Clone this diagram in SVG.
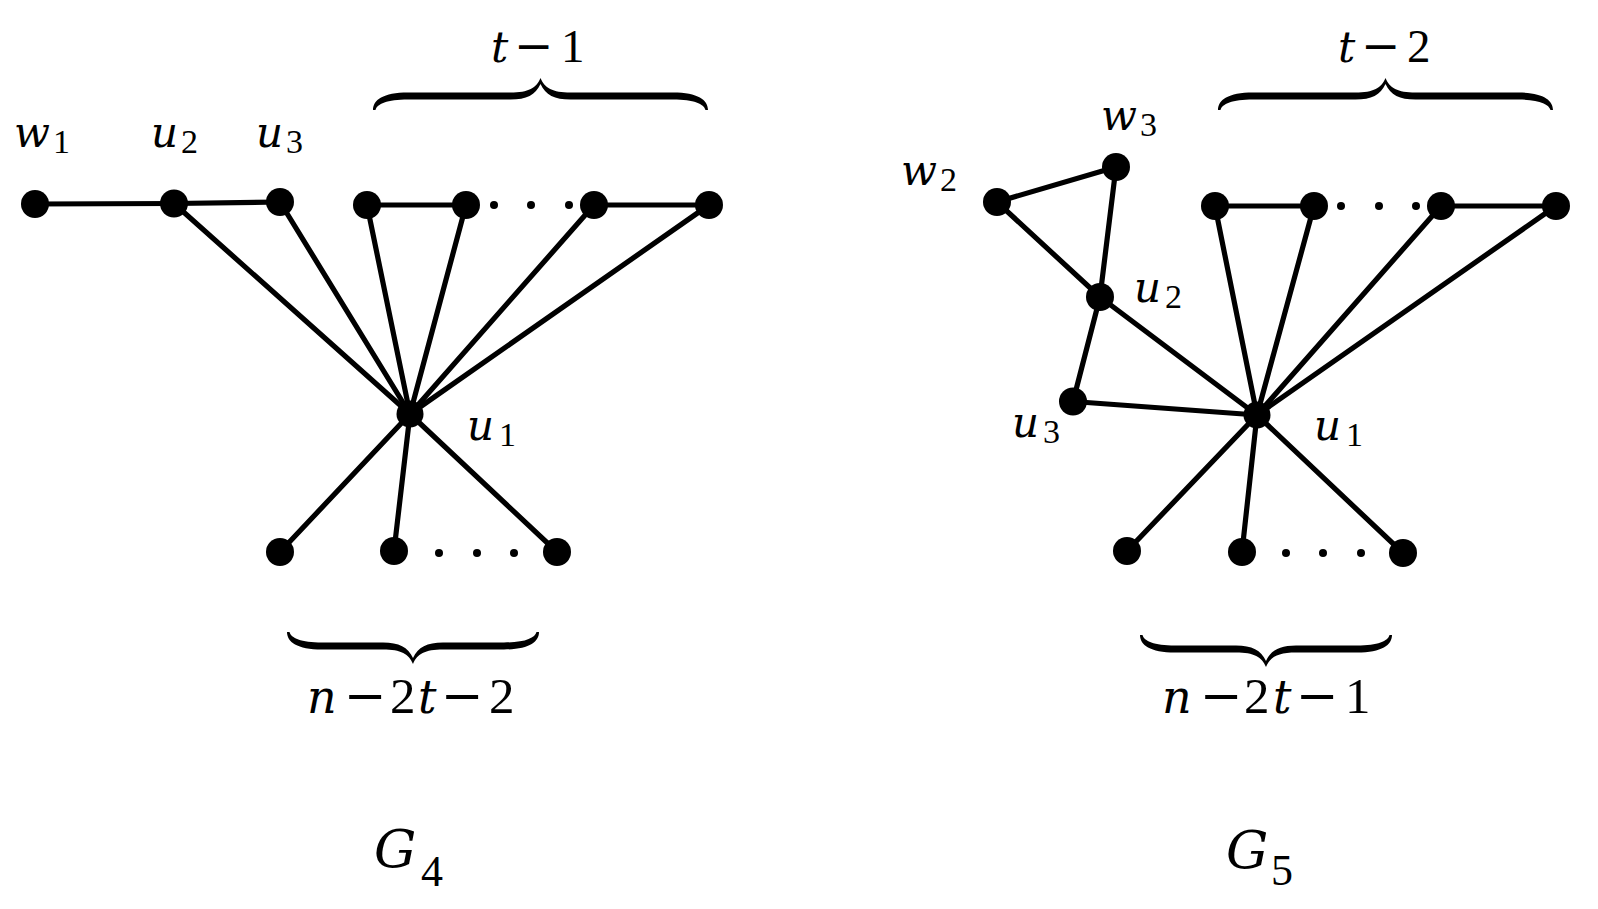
<svg xmlns="http://www.w3.org/2000/svg" xmlns:xlink="http://www.w3.org/1999/xlink" width="1598" height="909" viewBox="0 0 1598 909">
<defs>
<path id="brace335" d="M0,0 C0,-10 10,-17.5 35,-17.5 L137.5,-17.5 C155.5,-17.5 163.5,-22 167.5,-32 C171.5,-22 179.5,-17.5 197.5,-17.5 L300,-17.5 C325,-17.5 335,-10 335,0 L332.5,0 C331,-6 321,-10.5 300,-10.5 L197.5,-10.5 C181.5,-10.5 172.5,-15 167.5,-26 C162.5,-15 153.5,-10.5 137.5,-10.5 L35,-10.5 C14,-10.5 4,-6 2.5,0 Z"/>
<path id="brace252" d="M0,0 C0,-10 10,-17.5 35,-17.5 L96,-17.5 C114,-17.5 122,-22 126,-32 C130,-22 138,-17.5 156,-17.5 L217,-17.5 C242,-17.5 252,-10 252,0 L249.5,0 C248,-6 238,-10.5 217,-10.5 L156,-10.5 C140,-10.5 131,-15 126,-26 C121,-15 112,-10.5 96,-10.5 L35,-10.5 C14,-10.5 4,-6 2.5,0 Z"/>
</defs>
<rect x="0" y="0" width="1598" height="909" fill="#fff"/>

<g id="connectors" stroke="#000" stroke-width="5.2" stroke-linecap="round" fill="none">
  <line x1="35" y1="204" x2="174" y2="203.5"/>
  <line x1="174" y1="203.5" x2="280" y2="202"/>
  <line x1="367" y1="205" x2="466" y2="205"/>
  <line x1="594" y1="205" x2="709" y2="205"/>
  <line x1="410" y1="414" x2="174" y2="203.5"/>
  <line x1="410" y1="414" x2="280" y2="202"/>
  <line x1="410" y1="414" x2="367" y2="205"/>
  <line x1="410" y1="414" x2="466" y2="205"/>
  <line x1="410" y1="414" x2="594" y2="205"/>
  <line x1="410" y1="414" x2="709" y2="205"/>
  <line x1="410" y1="414" x2="280" y2="552"/>
  <line x1="410" y1="414" x2="394" y2="551"/>
  <line x1="410" y1="414" x2="557" y2="552"/>
  <line x1="997" y1="202" x2="1116" y2="167"/>
  <line x1="1116" y1="167" x2="1100" y2="297"/>
  <line x1="997" y1="202" x2="1100" y2="297"/>
  <line x1="1100" y1="297" x2="1073" y2="401.5"/>
  <line x1="1100" y1="297" x2="1257" y2="415"/>
  <line x1="1073" y1="401.5" x2="1257" y2="415"/>
  <line x1="1215" y1="206" x2="1314" y2="206"/>
  <line x1="1441" y1="206" x2="1556" y2="206"/>
  <line x1="1257" y1="415" x2="1215" y2="206"/>
  <line x1="1257" y1="415" x2="1314" y2="206"/>
  <line x1="1257" y1="415" x2="1441" y2="206"/>
  <line x1="1257" y1="415" x2="1556" y2="206"/>
  <line x1="1257" y1="415" x2="1127" y2="551"/>
  <line x1="1257" y1="415" x2="1242" y2="552"/>
  <line x1="1257" y1="415" x2="1403" y2="553"/>
</g>

<g id="G4" fill="#000">
  <g id="g4-w1"><circle cx="35" cy="204" r="14"/><text font-family="Liberation Serif, serif" font-size="34"><tspan font-family="DejaVu Serif, serif" font-style="italic" font-size="42" x="14" y="147">w</tspan><tspan x="53" y="153">1</tspan></text></g>
  <g id="g4-u2"><circle cx="174" cy="203.5" r="14"/><text font-family="Liberation Serif, serif" font-size="34"><tspan font-family="DejaVu Serif, serif" font-style="italic" font-size="42" x="151" y="147">u</tspan><tspan x="181" y="153">2</tspan></text></g>
  <g id="g4-u3"><circle cx="280" cy="202" r="14"/><text font-family="Liberation Serif, serif" font-size="34"><tspan font-family="DejaVu Serif, serif" font-style="italic" font-size="42" x="256" y="147">u</tspan><tspan x="286" y="153">3</tspan></text></g>
  <g id="g4-a1"><circle cx="367" cy="205" r="14"/></g>
  <g id="g4-a2"><circle cx="466" cy="205" r="14"/></g>
  <g id="g4-a3"><circle cx="594" cy="205" r="14"/></g>
  <g id="g4-a4"><circle cx="709" cy="205" r="14"/></g>
  <g id="g4-u1"><circle cx="410" cy="414" r="13.5"/><text font-family="Liberation Serif, serif" font-size="34"><tspan font-family="DejaVu Serif, serif" font-style="italic" font-size="42" x="467" y="440">u</tspan><tspan x="499" y="446">1</tspan></text></g>
  <g id="g4-b1"><circle cx="280" cy="552" r="14"/></g>
  <g id="g4-b2"><circle cx="394" cy="551" r="14"/></g>
  <g id="g4-b3"><circle cx="557" cy="552" r="14"/></g>
  <g id="g4-dots">
    <circle cx="494" cy="205" r="4"/><circle cx="531" cy="205" r="4"/><circle cx="569" cy="205" r="4"/>
    <circle cx="439" cy="553" r="4"/><circle cx="477" cy="553" r="4"/><circle cx="514" cy="553" r="4"/>
  </g>
  <g id="g4-brace-top"><use xlink:href="#brace335" href="#brace335" transform="translate(373,110)"/>
    <text font-family="Liberation Serif, serif" font-size="47"><tspan font-family="DejaVu Serif, serif" font-style="italic" font-size="43" x="491" y="62">t</tspan><tspan font-family="DejaVu Serif, serif" x="514" y="62">−</tspan><tspan x="561" y="62">1</tspan></text></g>
  <g id="g4-brace-bottom"><use xlink:href="#brace252" href="#brace252" transform="translate(287,632) scale(1,-1)"/>
    <text font-family="Liberation Serif, serif" font-size="51"><tspan font-family="DejaVu Serif, serif" font-style="italic" font-size="46" x="307" y="713">n</tspan><tspan font-family="DejaVu Serif, serif" x="344" y="713">−</tspan><tspan x="390" y="713">2</tspan><tspan font-family="DejaVu Serif, serif" font-style="italic" font-size="46" x="418" y="713">t</tspan><tspan font-family="DejaVu Serif, serif" x="441" y="713">−</tspan><tspan x="489" y="713">2</tspan></text></g>
  <g id="g4-title"><text font-family="Liberation Serif, serif" font-size="44"><tspan font-family="DejaVu Serif, serif" font-style="italic" font-size="53" x="374" y="867">G</tspan><tspan x="421" y="886">4</tspan></text></g>
</g>

<g id="G5" fill="#000">
  <g id="g5-w2"><circle cx="997" cy="202" r="14"/><text font-family="Liberation Serif, serif" font-size="34"><tspan font-family="DejaVu Serif, serif" font-style="italic" font-size="42" x="901" y="185">w</tspan><tspan x="940" y="191">2</tspan></text></g>
  <g id="g5-w3"><circle cx="1116" cy="167" r="14"/><text font-family="Liberation Serif, serif" font-size="34"><tspan font-family="DejaVu Serif, serif" font-style="italic" font-size="42" x="1101" y="130">w</tspan><tspan x="1140" y="136">3</tspan></text></g>
  <g id="g5-u2"><circle cx="1100" cy="297" r="14"/><text font-family="Liberation Serif, serif" font-size="34"><tspan font-family="DejaVu Serif, serif" font-style="italic" font-size="42" x="1134" y="302">u</tspan><tspan x="1165" y="308">2</tspan></text></g>
  <g id="g5-u3"><circle cx="1073" cy="401.5" r="14"/><text font-family="Liberation Serif, serif" font-size="34"><tspan font-family="DejaVu Serif, serif" font-style="italic" font-size="42" x="1012" y="437">u</tspan><tspan x="1043" y="443">3</tspan></text></g>
  <g id="g5-u1"><circle cx="1257" cy="415" r="13.5"/><text font-family="Liberation Serif, serif" font-size="34"><tspan font-family="DejaVu Serif, serif" font-style="italic" font-size="42" x="1314" y="440">u</tspan><tspan x="1346" y="446">1</tspan></text></g>
  <g id="g5-c1"><circle cx="1215" cy="206" r="14"/></g>
  <g id="g5-c2"><circle cx="1314" cy="206" r="14"/></g>
  <g id="g5-c3"><circle cx="1441" cy="206" r="14"/></g>
  <g id="g5-c4"><circle cx="1556" cy="206" r="14"/></g>
  <g id="g5-d1"><circle cx="1127" cy="551" r="14"/></g>
  <g id="g5-d2"><circle cx="1242" cy="552" r="14"/></g>
  <g id="g5-d3"><circle cx="1403" cy="553" r="14"/></g>
  <g id="g5-dots">
    <circle cx="1341" cy="206" r="4"/><circle cx="1379" cy="206" r="4"/><circle cx="1416" cy="206" r="4"/>
    <circle cx="1286" cy="553" r="4"/><circle cx="1323" cy="553" r="4"/><circle cx="1361" cy="553" r="4"/>
  </g>
  <g id="g5-brace-top"><use xlink:href="#brace335" href="#brace335" transform="translate(1218,110)"/>
    <text font-family="Liberation Serif, serif" font-size="47"><tspan font-family="DejaVu Serif, serif" font-style="italic" font-size="43" x="1338" y="62">t</tspan><tspan font-family="DejaVu Serif, serif" x="1361" y="62">−</tspan><tspan x="1407" y="62">2</tspan></text></g>
  <g id="g5-brace-bottom"><use xlink:href="#brace252" href="#brace252" transform="translate(1140,635) scale(1,-1)"/>
    <text font-family="Liberation Serif, serif" font-size="51"><tspan font-family="DejaVu Serif, serif" font-style="italic" font-size="46" x="1162" y="713">n</tspan><tspan font-family="DejaVu Serif, serif" x="1200" y="713">−</tspan><tspan x="1244" y="713">2</tspan><tspan font-family="DejaVu Serif, serif" font-style="italic" font-size="46" x="1273" y="713">t</tspan><tspan font-family="DejaVu Serif, serif" x="1296" y="713">−</tspan><tspan x="1345" y="713">1</tspan></text></g>
  <g id="g5-title"><text font-family="Liberation Serif, serif" font-size="44"><tspan font-family="DejaVu Serif, serif" font-style="italic" font-size="53" x="1226" y="868">G</tspan><tspan x="1271" y="885">5</tspan></text></g>
</g>
</svg>
